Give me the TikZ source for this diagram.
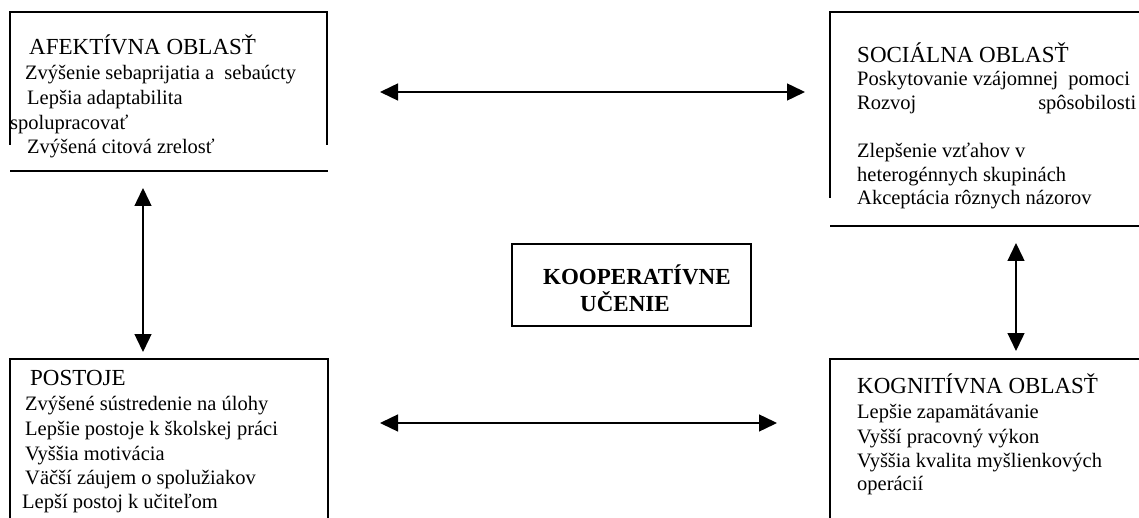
\documentclass[tikz,border=0pt]{standalone}
\usepackage{fontspec}
\setmainfont{Liberation Serif}
\usetikzlibrary{arrows.meta}

\tikzset{
  boxline/.style={line width=1.8pt},
  link/.style={line width=1.4pt,
    {Triangle[length=18pt,width=17pt]}-{Triangle[length=18pt,width=17pt]}},
  head/.style={anchor=base west, inner sep=0pt, font=\fontsize{23}{27}\selectfont},
  item/.style={anchor=base west, inner sep=0pt, font=\fontsize{20.5}{24}\selectfont},
  core/.style={anchor=base west, inner sep=0pt, font=\fontsize{23}{27}\selectfont\bfseries},
}

\begin{document}
\begin{tikzpicture}[x=1pt,y=-1pt]
            \useasboundingbox (0,0) rectangle (1139,518);
            \clip (0,0) rectangle (1139,518);
            % top left: afektivna oblast
            \draw[boxline] (10,145) -- (10,12) -- (327,12) -- (327,145);
            \draw[boxline] (10,171) -- (328,171);
            \node[head] (afekt)   at (29,55)  {AFEKTÍVNA OBLASŤ};
            \node[item] (afekt-1) at (25,80)  {Zvýšenie sebaprijatia a~ sebaúcty};
            \node[item] (afekt-2) at (27,105) {Lepšia adaptabilita};
            \node[item] (afekt-3) at (10,130) {spolupracovať};
            \node[item] (afekt-4) at (27,154) {Zvýšená citová zrelosť};
            % top right: socialna oblast
            \draw[boxline] (830,198) -- (830,12) -- (1145,12);
            \draw[boxline] (830,226) -- (1145,226);
            \node[head] (social)   at (857,63)  {SOCIÁLNA OBLASŤ};
            \node[item] (social-1) at (857,86)  {Poskytovanie vzájomnej~ pomoci};
            \node[item] (social-2) at (857,110) {\hbox to 279pt{Rozvoj\hfill spôsobilosti}};
            \node[item] (social-3) at (857,158) {Zlepšenie vzťahov v};
            \node[item] (social-4) at (857,182) {heterogénnych skupinách};
            \node[item] (social-5) at (857,205) {Akceptácia rôznych názorov};
            % bottom left: postoje
            \draw[boxline] (10,525) -- (10,359) -- (328,359) -- (328,525);
            \node[head] (postoje)   at (30,385) {POSTOJE};
            \node[item] (postoje-1) at (25,410) {Zvýšené sústredenie na úlohy};
            \node[item] (postoje-2) at (25,435) {Lepšie postoje k školskej práci};
            \node[item] (postoje-3) at (25,460) {Vyššia motivácia};
            \node[item] (postoje-4) at (25,484) {Väčší záujem o spolužiakov};
            \node[item] (postoje-5) at (22,508) {Lepší postoj k učiteľom};
            % bottom right: kognitivna oblast
            \draw[boxline] (830,525) -- (830,359) -- (1145,359);
            \node[head] (kogn)   at (857,393) {KOGNITÍVNA OBLASŤ};
            \node[item] (kogn-1) at (857,418) {Lepšie zapamätávanie};
            \node[item] (kogn-2) at (857,443) {Vyšší pracovný výkon};
            \node[item] (kogn-3) at (857,467) {Vyššia kvalita myšlienkových};
            \node[item] (kogn-4) at (857,490) {operácií};
            % middle
            \draw[boxline] (512,244) rectangle (751,326);
            \node[core] (koop)  at (543,285) {KOOPERATÍVNE};
            \node[core] (ucenie) at (580,312) {UČENIE};
            % arrows between the areas
            \coordinate (top-l) at (380,92);
            \coordinate (top-r) at (805,92);
            \coordinate (bot-l) at (380,423);
            \coordinate (bot-r) at (777,423);
            \coordinate (lft-t) at (143,188);
            \coordinate (lft-b) at (143,352);
            \coordinate (rgt-t) at (1016,243);
            \coordinate (rgt-b) at (1016,351);
            \draw[link] (top-l) -- (top-r);
            \draw[link] (bot-l) -- (bot-r);
            \draw[link] (lft-t) -- (lft-b);
            \draw[link] (rgt-t) -- (rgt-b);
\end{tikzpicture}
\end{document}
